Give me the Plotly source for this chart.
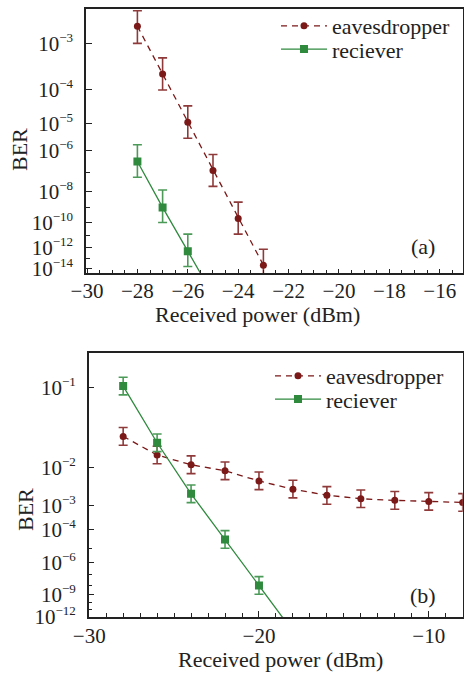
import numpy as np
import plotly.graph_objects as go

# ---------------- data ----------------
# panel (a)
xa_eav = [-28, -27, -26, -25, -24, -23]
ber_a_eav = [1.95e-3, 2.4e-4, 1.1e-5, 1.25e-7, 1.9e-10, 2.1e-14]
ber_a_eav_hi = [3.3e-3, 5.3e-4, 3.6e-5, 6.7e-7, 2.3e-9, 6.9e-13]
ber_a_eav_lo = [1.0e-3, 9.8e-5, 3.0e-6, 1.9e-8, 1.3e-11, 3.8e-16]

xa_rec = [-28, -27, -26, -25]
ber_a_rec = [3.3e-7, 1.07e-9, 4.6e-13, 8e-18]
ber_a_rec_hi = [1.7e-6, 1.2e-8, 1.3e-11, 7e-16]
ber_a_rec_lo = [5.8e-8, 1.0e-10, 1.5e-14, 5e-20]

# panel (b)
xb_eav = [-28, -26, -24, -22, -20, -18, -16, -14, -12, -10, -8]
ber_b_eav = [0.0336, 0.0175, 0.0116, 0.0087, 0.0051, 0.0031, 0.0021, 0.00163, 0.00145, 0.00134, 0.00124]
ber_b_eav_hi = [0.0434, 0.0243, 0.0169, 0.0131, 0.0082, 0.00528, 0.00366, 0.00296, 0.00267, 0.00249, 0.00233]
ber_b_eav_lo = [0.0252, 0.0121, 0.00757, 0.0055, 0.00303, 0.00173, 0.00108, 0.00083, 0.00072, 0.00067, 0.00061]

xb_rec = [-28, -26, -24, -22, -20, -18]
ber_b_rec = [0.1026, 0.0274, 0.0023, 3.2e-5, 9.9e-9, 2.6e-15]
ber_b_rec_hi = [0.1167, 0.0361, 0.00403, 9.1e-5, 7.1e-8, 1.0e-13]
ber_b_rec_lo = [0.0889, 0.0200, 0.00122, 9.8e-6, 1.08e-9, 4e-17]

# tick exponents
a_major = [3, 4, 5, 6, 8, 10, 12, 14]
a_minor = [7, 9, 11, 13]
b_major = [1, 2, 3, 4, 6, 9, 12]
b_minor = [5, 7, 8, 10, 11]

# BER axis transform: log10(-log10(BER) - c)
C_A = 0.7
C_B = 0.5


def tf(ber, c):
    return np.log10(-np.log10(np.asarray(ber, dtype=float)) - c)


def exps_to_vals(exps, c):
    return list(tf([10.0 ** (-k) for k in exps], c))


def tick_text(exps):
    return ["10<sup><span style='font-size:13px'>\u2212%d</span></sup>" % k for k in exps]


EAV = "#7b1818"
EAV_ERR = "#8f3a3a"
REC = "#2f8a3e"
REC_ERR = "#4c9a58"
FONT = "Liberation Serif, Times New Roman, serif"
FS_TICK = 21
FS = 22

W, H = 464, 673


def px_x(p):
    return p / W


def px_y(p):
    return 1 - p / H


fig = go.Figure()


def add_series(x, ber, hi, lo, c, xa, ya, color, ecolor, symbol, dash, name, legend):
    y = tf(ber, c)
    yhi = tf(hi, c)
    ylo = tf(lo, c)
    fig.add_trace(go.Scatter(
        x=x, y=y, xaxis=xa, yaxis=ya, name=name, legend=legend,
        mode="lines+markers",
        line=dict(color=color, width=1.3, dash=dash),
        marker=dict(color=color, symbol=symbol, size=8 if symbol == "square" else 7),
        error_y=dict(type="data", symmetric=False, array=list(ylo - y), arrayminus=list(y - yhi),
                     color=ecolor, thickness=1.6, width=4.5),
    ))


add_series(xa_eav, ber_a_eav, ber_a_eav_hi, ber_a_eav_lo, C_A, "x", "y", EAV, EAV_ERR, "circle", "6px,5px", "eavesdropper", "legend")
add_series(xa_rec, ber_a_rec, ber_a_rec_hi, ber_a_rec_lo, C_A, "x", "y", REC, REC_ERR, "square", "solid", "reciever", "legend2")
add_series(xb_eav, ber_b_eav, ber_b_eav_hi, ber_b_eav_lo, C_B, "x2", "y2", EAV, EAV_ERR, "circle", "6px,5px", "eavesdropper", "legend3")
add_series(xb_rec, ber_b_rec, ber_b_rec_hi, ber_b_rec_lo, C_B, "x2", "y2", REC, REC_ERR, "square", "solid", "reciever", "legend4")

axis_common = dict(showline=True, linecolor="#222222", linewidth=1.5, mirror=True,
                   ticks="inside", tickcolor="#222222", tickwidth=1.2,
                   showgrid=False, zeroline=False, automargin=False,
                   tickfont=dict(family=FONT, size=FS_TICK, color="#222222"))

fig.update_layout(
    width=W, height=H,
    margin=dict(l=0, r=0, t=0, b=0, autoexpand=False),
    paper_bgcolor="white", plot_bgcolor="white",
    font=dict(family=FONT, size=FS, color="#222222"),
    xaxis=dict(domain=[px_x(86), px_x(462.7)], anchor="y", range=[-30.04, -15.09],
               tickmode="linear", tick0=-30, dtick=2, ticklen=5, ticklabelstandoff=-2,
               minor=dict(dtick=0.5, tick0=-30, ticklen=4, ticks="inside", tickcolor="#222222"),
               **axis_common),
    yaxis=dict(domain=[px_y(273.3), px_y(9.3)], anchor="x", range=[1.1409, 0.2461],
               tickmode="array", tickvals=exps_to_vals(a_major, C_A), ticktext=tick_text(a_major),
               ticklen=6, ticklabelstandoff=7,
               minor=dict(tickmode="array", tickvals=exps_to_vals(a_minor, C_A), ticklen=4,
                          ticks="inside", tickcolor="#222222"),
               **axis_common),
    xaxis2=dict(domain=[px_x(88.7), px_x(462.7)], anchor="y2", range=[-30.03, -8.0],
                tickmode="linear", tick0=-30, dtick=10, ticklen=6, ticklabelstandoff=-1,
                minor=dict(dtick=1, tick0=-30, ticklen=4, ticks="inside", tickcolor="#222222"),
                **axis_common),
    yaxis2=dict(domain=[px_y(617), px_y(353.3)], anchor="x2", range=[1.063, -0.506],
                tickmode="array", tickvals=exps_to_vals(b_major, C_B), ticktext=tick_text(b_major),
                ticklen=6, ticklabelstandoff=7,
                minor=dict(tickmode="array", tickvals=exps_to_vals(b_minor, C_B), ticklen=4,
                           ticks="inside", tickcolor="#222222"),
                **axis_common),
    showlegend=True,
)

leg_common = dict(bgcolor="rgba(0,0,0,0)", borderwidth=0, itemwidth=46,
                  font=dict(family=FONT, size=FS, color="#222222"),
                  xanchor="left", yanchor="middle", tracegroupgap=0)
fig.update_layout(
    legend=dict(x=px_x(276), y=px_y(26), **leg_common),
    legend2=dict(x=px_x(276), y=px_y(49.3), **leg_common),
    legend3=dict(x=px_x(270), y=px_y(376), **leg_common),
    legend4=dict(x=px_x(270), y=px_y(399.3), **leg_common),
)

ann_font = dict(family=FONT, size=FS, color="#222222")
annotations = [
    dict(text="(a)", x=px_x(423), y=px_y(246.7)),
    dict(text="(b)", x=px_x(423), y=px_y(595)),
    dict(text="Received power (dBm)", x=px_x(257.7), y=px_y(314)),
    dict(text="Received power (dBm)", x=px_x(280), y=px_y(659)),
    dict(text="BER", x=px_x(19), y=px_y(150), textangle=-90),
    dict(text="BER", x=px_x(25), y=px_y(510), textangle=-90),
]
for a in annotations:
    fig.add_annotation(xref="paper", yref="paper", xanchor="center", yanchor="middle",
                       showarrow=False, font=ann_font, **a)

fig.write_html("out.html")
